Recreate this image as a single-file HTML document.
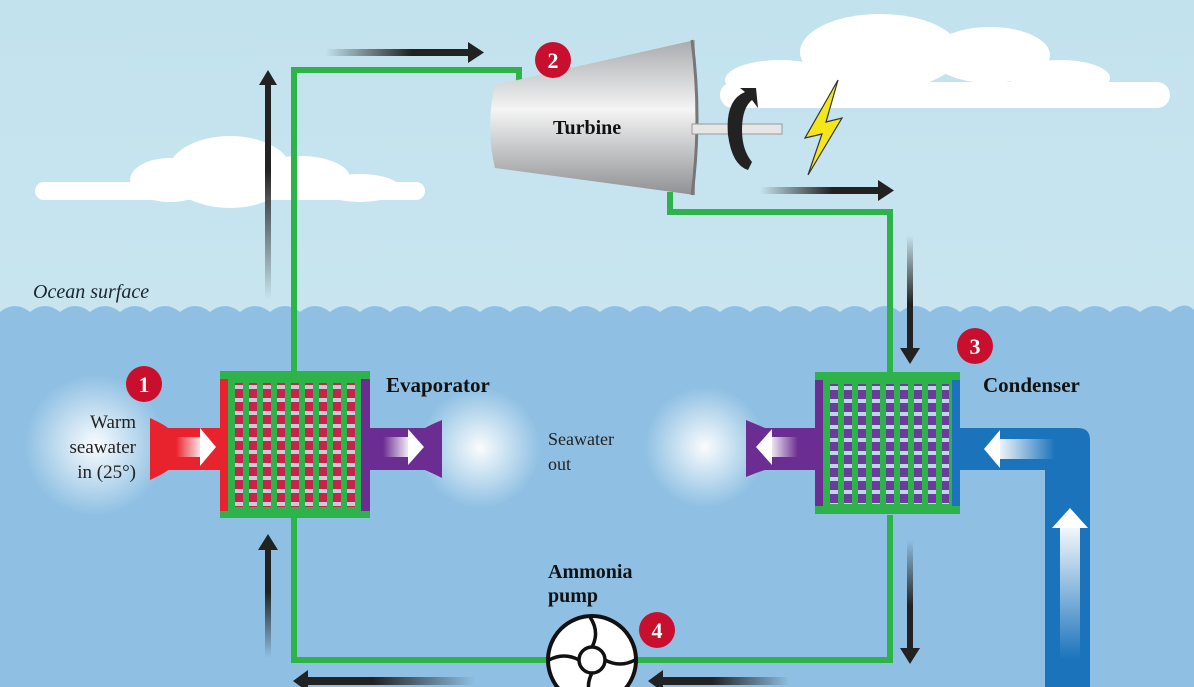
<!DOCTYPE html>
<html><head><meta charset="utf-8"><style>
html,body{margin:0;padding:0;width:1194px;height:687px;overflow:hidden}
svg{display:block}
text{font-family:"Liberation Serif",serif}
</style></head><body>
<svg width="1194" height="687" viewBox="0 0 1194 687" xmlns="http://www.w3.org/2000/svg">
<defs>
<linearGradient id="sky" x1="0" y1="0" x2="0" y2="1"><stop offset="0" stop-color="#c2e2ee"/><stop offset="1" stop-color="#cfe9f1"/></linearGradient>
<radialGradient id="glow"><stop offset="0" stop-color="#fff" stop-opacity="0.95"/><stop offset="1" stop-color="#fff" stop-opacity="0"/></radialGradient>
<linearGradient id="cone" x1="0" y1="0" x2="0" y2="1"><stop offset="0" stop-color="#a9abae"/><stop offset="0.45" stop-color="#f4f4f4"/><stop offset="1" stop-color="#8f9194"/></linearGradient>
<linearGradient id="ah" x1="0" y1="0" x2="1" y2="0"><stop offset="0" stop-color="#222" stop-opacity="0"/><stop offset="0.6" stop-color="#222"/><stop offset="1" stop-color="#222"/></linearGradient>
<linearGradient id="ahl" x1="1" y1="0" x2="0" y2="0"><stop offset="0" stop-color="#222" stop-opacity="0"/><stop offset="0.6" stop-color="#222"/><stop offset="1" stop-color="#222"/></linearGradient>
<linearGradient id="avu" x1="0" y1="1" x2="0" y2="0"><stop offset="0" stop-color="#222" stop-opacity="0"/><stop offset="0.6" stop-color="#222"/><stop offset="1" stop-color="#222"/></linearGradient>
<linearGradient id="avd" x1="0" y1="0" x2="0" y2="1"><stop offset="0" stop-color="#222" stop-opacity="0"/><stop offset="0.6" stop-color="#222"/><stop offset="1" stop-color="#222"/></linearGradient>
<linearGradient id="wr" x1="0" y1="0" x2="1" y2="0"><stop offset="0" stop-color="#fff" stop-opacity="0"/><stop offset="1" stop-color="#fff"/></linearGradient>
<linearGradient id="wl" x1="1" y1="0" x2="0" y2="0"><stop offset="0" stop-color="#fff" stop-opacity="0"/><stop offset="1" stop-color="#fff"/></linearGradient>
<linearGradient id="wu" x1="0" y1="1" x2="0" y2="0"><stop offset="0" stop-color="#fff" stop-opacity="0"/><stop offset="1" stop-color="#fff"/></linearGradient>
<pattern id="gridE" x="232" y="379" width="14" height="13" patternUnits="userSpaceOnUse"><rect x="3" y="0" width="8" height="13" fill="#c8234a"/><rect x="3" y="6" width="8" height="4" fill="#c9ccd6"/></pattern>
<pattern id="gridC" x="827" y="380" width="14" height="13" patternUnits="userSpaceOnUse"><rect x="3" y="0" width="8" height="13" fill="#6a3d9a"/><rect x="3" y="6" width="8" height="4" fill="#c3d3ee"/></pattern>
</defs>
<rect width="1194" height="687" fill="url(#sky)"/>
<!-- clouds -->
<g fill="#fff">
<ellipse cx="230" cy="172" rx="62" ry="36"/><ellipse cx="170" cy="180" rx="40" ry="22"/><ellipse cx="300" cy="178" rx="50" ry="22"/><ellipse cx="360" cy="188" rx="40" ry="14"/><rect x="35" y="182" width="390" height="18" rx="9"/>
<ellipse cx="880" cy="52" rx="80" ry="38"/><ellipse cx="990" cy="55" rx="60" ry="28"/><ellipse cx="780" cy="80" rx="55" ry="20"/><ellipse cx="1060" cy="78" rx="50" ry="18"/><rect x="720" y="82" width="450" height="26" rx="13"/>
</g>
<!-- water -->
<path d="M0 312 Q15 300 30 312 Q45 300 60 312 Q75 300 90 312 Q105 300 120 312 Q135 300 150 312 Q165 300 180 312 Q195 300 210 312 Q225 300 240 312 Q255 300 270 312 Q285 300 300 312 Q315 300 330 312 Q345 300 360 312 Q375 300 390 312 Q405 300 420 312 Q435 300 450 312 Q465 300 480 312 Q495 300 510 312 Q525 300 540 312 Q555 300 570 312 Q585 300 600 312 Q615 300 630 312 Q645 300 660 312 Q675 300 690 312 Q705 300 720 312 Q735 300 750 312 Q765 300 780 312 Q795 300 810 312 Q825 300 840 312 Q855 300 870 312 Q885 300 900 312 Q915 300 930 312 Q945 300 960 312 Q975 300 990 312 Q1005 300 1020 312 Q1035 300 1050 312 Q1065 300 1080 312 Q1095 300 1110 312 Q1125 300 1140 312 Q1155 300 1170 312 Q1185 300 1194 310 L1194 687 L0 687Z" fill="#8fc0e3"/>
<text x="33" y="298" font-size="20" font-style="italic" fill="#1a2530">Ocean surface</text>
<!-- glows -->
<circle cx="95" cy="445" r="70" fill="url(#glow)"/>
<circle cx="480" cy="448" r="60" fill="url(#glow)"/>
<circle cx="705" cy="447" r="60" fill="url(#glow)"/>
<!-- green loop -->
<g fill="none" stroke="#2db34a" stroke-width="6">
<path d="M294 372 V70 H519 V85"/>
<path d="M670 192 V212 H890 V372"/>
<path d="M294 515 V660 H890 V515"/>
</g>
<!-- arrows -->
<rect x="265" y="85" width="6" height="215" fill="url(#avu)"/><path d="M259 85 L268 70 L277 85Z" fill="#222"/>
<rect x="325" y="49" width="145" height="7" fill="url(#ah)"/><path d="M468 42 L484 52.5 L468 63Z" fill="#222"/>
<rect x="760" y="187" width="120" height="7" fill="url(#ah)"/><path d="M878 180 L894 190.5 L878 201Z" fill="#222"/>
<rect x="907" y="235" width="6" height="115" fill="url(#avd)"/><path d="M900 348 L910 364 L920 348Z" fill="#222"/>
<rect x="907" y="540" width="6" height="110" fill="url(#avd)"/><path d="M900 648 L910 664 L920 648Z" fill="#222"/>
<rect x="265" y="548" width="6" height="110" fill="url(#avu)"/><path d="M258 550 L268 534 L278 550Z" fill="#222"/>
<rect x="305" y="677" width="170" height="8" fill="url(#ahl)"/><path d="M308 670 L293 681 L308 692Z" fill="#222"/>
<rect x="660" y="677" width="130" height="8" fill="url(#ahl)"/><path d="M663 670 L648 681 L663 692Z" fill="#222"/>
<!-- evaporator pipes -->
<path d="M150 418 Q165 425 168 428 H222 V470 H168 Q165 473 150 480Z" fill="#e8232e"/>
<rect x="176" y="437" width="28" height="20" fill="url(#wr)"/><path d="M200 428 L216 447 L200 466Z" fill="#fff"/>
<path d="M368 428 H425 Q430 425 442 420 V478 Q430 472 425 470 H368Z" fill="#6b2d91"/>
<rect x="383" y="437" width="28" height="20" fill="url(#wr)"/><path d="M408 429 L424 447 L408 465Z" fill="#fff"/>
<!-- evaporator -->
<rect x="220" y="371" width="150" height="147" fill="#2db34a"/>
<rect x="220" y="379" width="8" height="132" fill="#e8232e"/>
<rect x="361" y="379" width="9" height="132" fill="#6b2d91"/>
<rect x="232" y="383" width="126" height="124" fill="url(#gridE)"/>
<!-- condenser pipes -->
<path d="M1090 687 V440 Q1090 428 1078 428 H955 V470 H1045 V687Z" fill="#1a73bb"/>
<rect x="995" y="439" width="60" height="20" fill="url(#wl)"/><path d="M1000 430 L984 449 L1000 468Z" fill="#fff"/>
<rect x="1060" y="520" width="20" height="140" fill="url(#wu)"/><path d="M1052 528 L1070 508 L1088 528Z" fill="#fff"/>
<path d="M818 428 H765 Q758 425 746 420 V477 Q758 472 765 470 H818Z" fill="#6b2d91"/>
<rect x="768" y="437" width="30" height="20" fill="url(#wl)"/><path d="M772 429 L756 447 L772 465Z" fill="#fff"/>
<!-- condenser -->
<rect x="815" y="372" width="145" height="142" fill="#2db34a"/>
<rect x="815" y="380" width="8" height="126" fill="#6b2d91"/>
<rect x="952" y="380" width="8" height="126" fill="#1a73bb"/>
<rect x="827" y="384" width="122" height="120" fill="url(#gridC)"/>
<!-- turbine -->
<path d="M495 85 L695 40 L695 195 L495 168 Q485 127 495 85Z" fill="url(#cone)"/>
<path d="M692 40 Q702 118 692 195" fill="none" stroke="#777" stroke-width="3"/>
<rect x="692" y="124" width="90" height="10" fill="#e6e6e6" stroke="#999" stroke-width="1"/>
<path d="M745 92 Q725 100 728 135 Q732 165 748 170 L752 162 Q742 150 742 130 Q742 108 752 100 L758 108 L756 88 L740 88Z" fill="#222"/>
<path d="M838 80 L805 138 L822 134 L808 175 L842 118 L826 122Z" fill="#f4e619" stroke="#333" stroke-width="1.2"/>
<text x="553" y="134" font-size="20" font-weight="bold" fill="#111">Turbine</text>
<!-- pump -->
<circle cx="592" cy="660" r="44" fill="#fff" stroke="#111" stroke-width="4"/>
<g fill="none" stroke="#111" stroke-width="3.5">
<circle cx="592" cy="660" r="13"/>
<path d="M592 647 Q600 632 590 617"/><path d="M605 660 Q620 668 635 660"/><path d="M592 673 Q584 688 594 703"/><path d="M579 660 Q564 652 549 660"/>
</g>
<!-- numbers -->
<g font-family="Liberation Sans,sans-serif" font-weight="bold" font-size="22" fill="#fff" text-anchor="middle">
<circle cx="553" cy="60" r="18" fill="#c8102e"/><text x="553" y="68">2</text>
<circle cx="144" cy="384" r="18" fill="#c8102e"/><text x="144" y="392">1</text>
<circle cx="975" cy="346" r="18" fill="#c8102e"/><text x="975" y="354">3</text>
<circle cx="657" cy="630" r="18" fill="#c8102e"/><text x="657" y="638">4</text>
</g>
<!-- labels -->
<text x="386" y="392" font-size="21" font-weight="bold" fill="#111">Evaporator</text>
<text x="983" y="392" font-size="21" font-weight="bold" fill="#111">Condenser</text>
<text x="548" y="578" font-size="20" font-weight="bold" fill="#111">Ammonia</text>
<text x="548" y="602" font-size="20" font-weight="bold" fill="#111">pump</text>
<g font-family="DejaVu Sans,sans-serif" font-size="18" fill="#222">
<text x="548" y="445">Seawater</text><text x="548" y="470">out</text>
</g>
<g font-size="19" fill="#222" text-anchor="end">
<text x="136" y="428">Warm</text><text x="136" y="453">seawater</text><text x="136" y="478">in (25°)</text>
</g>
</svg>
</body></html>
